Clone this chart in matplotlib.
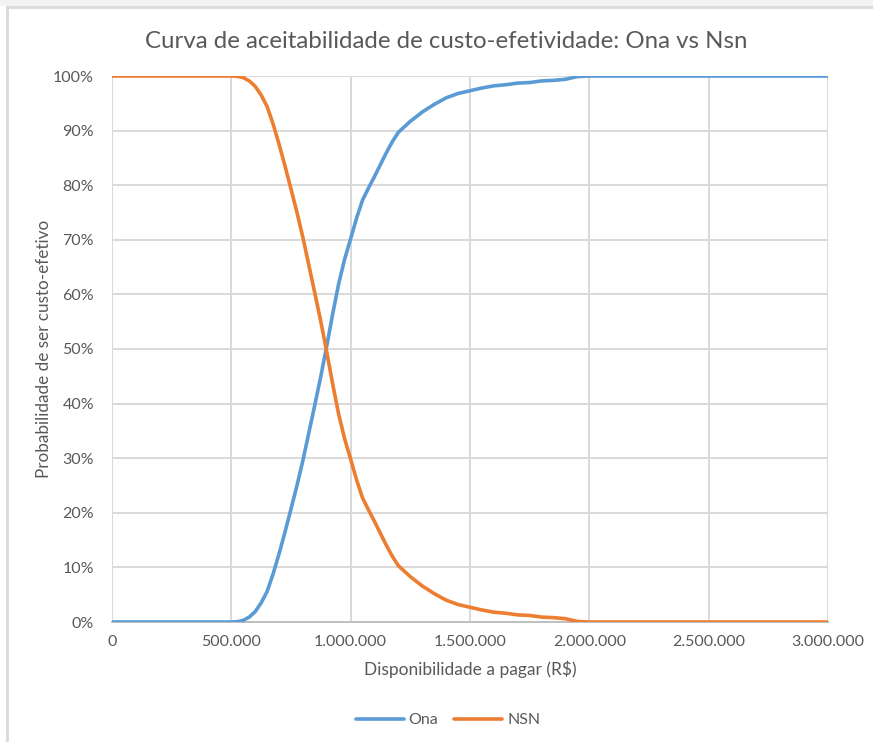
"""
Curva de aceitabilidade de custo-efetividade (CEAC), Excel-like style.
"""

import matplotlib.pyplot as plt
from matplotlib.lines import Line2D
from matplotlib.patches import Rectangle
from matplotlib.ticker import FuncFormatter, MultipleLocator

# willingness to pay (R$)
wtp = [
    0, 250_000, 500_000,
    525_000, 550_000, 575_000, 600_000, 625_000, 650_000, 675_000, 700_000,
    725_000, 750_000, 775_000, 800_000, 825_000, 850_000, 875_000, 900_000,
    925_000, 950_000, 975_000, 1_000_000, 1_025_000, 1_050_000, 1_075_000,
    1_100_000, 1_125_000, 1_150_000, 1_175_000, 1_200_000,
    1_250_000, 1_300_000, 1_350_000, 1_400_000, 1_450_000, 1_500_000,
    1_550_000, 1_600_000, 1_650_000, 1_700_000, 1_750_000, 1_800_000,
    1_850_000, 1_900_000, 1_950_000, 2_000_000, 2_500_000, 3_000_000,
]

# probability of being cost-effective (%)
ona = [
    0, 0, 0,
    0.05, 0.3, 0.9, 1.9, 3.5, 5.6, 8.8, 12.5,
    16.5, 20.7, 25.0, 29.6, 34.7, 39.8, 45.0, 50.6,
    56.5, 62.0, 66.5, 70.2, 74.0, 77.3, 79.5,
    81.6, 83.8, 86.0, 88.0, 89.7,
    91.7, 93.4, 94.8, 96.0, 96.8, 97.3,
    97.8, 98.2, 98.4, 98.7, 98.8, 99.1,
    99.2, 99.4, 99.9, 100, 100, 100,
]
nsn = [
    100, 100, 100,
    99.95, 99.7, 99.1, 98.1, 96.5, 94.4, 91.2, 87.5,
    83.5, 79.3, 75.0, 70.4, 65.3, 60.2, 55.0, 49.4,
    43.5, 38.0, 33.5, 29.8, 26.0, 22.7, 20.5,
    18.4, 16.2, 14.0, 12.0, 10.3,
    8.3, 6.6, 5.2, 4.0, 3.2, 2.7,
    2.2, 1.8, 1.6, 1.3, 1.2, 0.9,
    0.8, 0.6, 0.1, 0, 0, 0,
]

series = [("Ona", ona, "#5B9BD5"), ("NSN", nsn, "#ED7D31")]

plt.rcParams["font.family"] = ["Lato", "DejaVu Sans"]
TXT = "#595959"
GRID = "#D9D9D9"

fig = plt.figure(figsize=(8.73, 7.42), dpi=100)
fig.patch.set_facecolor("white")

# screenshot frame: light strip on top, chart-area border
fig.add_artist(Rectangle((0, 1 - 6 / 742), 1, 6 / 742, transform=fig.transFigure,
                         facecolor="#F3F3F3", edgecolor="none"))
fig.add_artist(Line2D([7 / 873, 7 / 873], [0, 1 - 7 / 742], transform=fig.transFigure,
                      color="#D9D9D9", lw=2))
fig.add_artist(Line2D([7 / 873, 1], [1 - 7 / 742, 1 - 7 / 742], transform=fig.transFigure,
                      color="#D9D9D9", lw=2))

ax = fig.add_axes([112 / 873, 1 - 622 / 742, (828 - 112) / 873, (622 - 76) / 742])

for name, vals, col in series:
    ax.plot(wtp, vals, color=col, lw=2.6, label=name,
            solid_capstyle="round", solid_joinstyle="round", zorder=3)

ax.set_xlim(0, 3_000_000)
ax.set_ylim(0, 100)
ax.xaxis.set_major_locator(MultipleLocator(500_000))
ax.yaxis.set_major_locator(MultipleLocator(10))
ax.xaxis.set_major_formatter(FuncFormatter(lambda v, p: f"{int(v):,}".replace(",", ".")))
ax.yaxis.set_major_formatter(FuncFormatter(lambda v, p: f"{int(v)}%"))

ax.grid(True, color=GRID, lw=1.4, zorder=0)
for s in ["top", "right", "left"]:
    ax.spines[s].set_visible(False)
ax.spines["bottom"].set_color("#BFBFBF")
ax.spines["bottom"].set_linewidth(1.4)
ax.tick_params(length=0, colors=TXT, labelsize=11.5)
ax.tick_params(axis="x", pad=9)
ax.tick_params(axis="y", pad=13)

ax.set_xlabel("Disponibilidade a pagar (R$)", color=TXT, fontsize=12.5, labelpad=9)
ax.set_ylabel("Probabilidade de ser custo-efetivo", color=TXT, fontsize=12.3, labelpad=0.5)
fig.text(446 / 873, 1 - 42 / 742, "Curva de aceitabilidade de custo-efetividade: Ona vs Nsn",
         ha="center", va="center", color=TXT, fontsize=17.3)

ax.legend(loc="center", bbox_to_anchor=(448 / 873, 1 - 720 / 742), bbox_transform=fig.transFigure,
          ncol=2, frameon=False, fontsize=11.5, labelcolor=TXT, handlelength=3.0,
          columnspacing=1.0, handletextpad=0.3)

fig.savefig("out.png", dpi=100)
